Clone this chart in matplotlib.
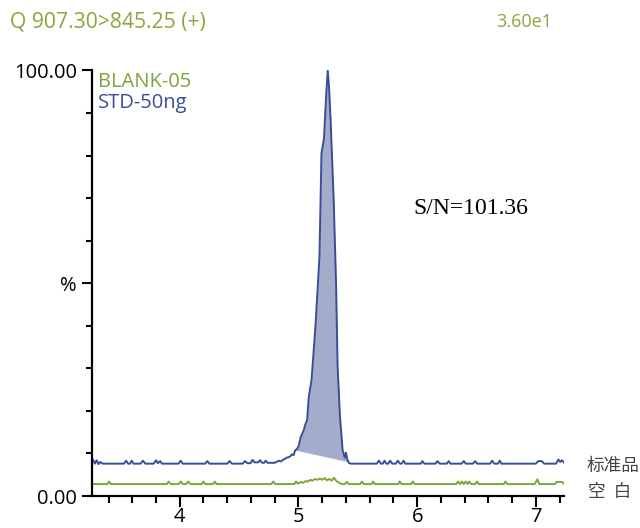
import matplotlib.pyplot as plt
import numpy as np
from matplotlib.ticker import MultipleLocator

# STD-50ng trace (retention time in min, intensity in %)
std_x = [3.26, 3.27, 3.285, 3.30, 3.315, 3.33, 3.35, 3.53, 3.548, 3.565, 3.58, 3.596, 3.61,
         3.67, 3.69, 3.71, 3.78, 3.80, 3.815, 3.834, 3.85, 3.99, 4.008, 4.025, 4.215, 4.232,
         4.25, 4.40, 4.42, 4.44, 4.53, 4.55, 4.57, 4.595, 4.613, 4.63, 4.66, 4.677, 4.695,
         4.71, 4.724, 4.74, 4.80, 4.836, 4.85, 4.87, 4.885, 4.90, 4.915, 4.93, 4.945, 4.96,
         4.97, 4.985, 5.00, 5.02, 5.045, 5.06, 5.073, 5.087, 5.11, 5.143, 5.177, 5.194,
         5.215, 5.235, 5.247, 5.258, 5.27, 5.297, 5.317, 5.33, 5.35, 5.372, 5.39, 5.40,
         5.41, 5.424, 5.44, 5.66, 5.678, 5.695, 5.71, 5.725, 5.74, 5.757, 5.773, 5.79,
         5.82, 5.837, 5.855, 5.87, 5.885, 5.90, 6.03, 6.044, 6.06, 6.155, 6.171, 6.19,
         6.25, 6.266, 6.28, 6.375, 6.393, 6.41, 6.47, 6.489, 6.505, 6.615, 6.632, 6.65,
         6.68, 6.696, 6.71, 7.00, 7.02, 7.05, 7.07, 7.15, 7.17, 7.19, 7.205, 7.22, 7.236]
std_y = [7.9, 8.5, 7.6, 8.4, 7.5, 8.0, 7.6, 7.6, 8.3, 7.6, 7.6, 8.3, 7.6,
         7.6, 8.3, 7.6, 7.6, 8.4, 7.7, 8.2, 7.6, 7.6, 8.3, 7.6, 7.6, 8.2,
         7.6, 7.6, 8.2, 7.6, 7.6, 8.2, 7.7, 7.7, 8.5, 7.9, 7.9, 8.4, 7.8,
         7.8, 8.3, 7.8, 7.8, 8.3, 8.1, 8.5, 8.7, 9.0, 9.1, 9.3, 9.8, 9.6,
         10.6, 11.0, 11.6, 13.9, 15.5, 17.0, 17.8, 23.3, 27.2, 39.7, 56.2, 80.5,
         84.0, 95.0, 100.0, 96.0, 89.0, 69.5, 49.9, 30.4, 18.6, 10.8, 9.0, 10.2,
         8.8, 7.8, 7.6, 7.6, 8.3, 7.6, 7.6, 8.3, 7.6, 7.6, 8.3, 7.6,
         7.6, 8.3, 7.6, 7.6, 8.3, 7.6, 7.6, 8.2, 7.6, 7.6, 8.2, 7.6,
         7.6, 8.2, 7.6, 7.6, 8.2, 7.6, 7.6, 8.2, 7.6, 7.6, 8.3, 7.6,
         7.6, 8.3, 7.6, 7.6, 8.2, 8.2, 7.6, 7.6, 7.6, 8.6, 8.0, 8.4, 7.9]

# BLANK-05 trace
blank_x = [3.26, 3.39, 3.405, 3.42, 3.89, 3.907, 3.925, 3.99, 4.008, 4.025, 4.055, 4.072,
           4.09, 4.185, 4.20, 4.215, 4.28, 4.295, 4.31, 4.77, 4.788, 4.805, 4.965, 4.98,
           4.995, 5.02, 5.04, 5.06, 5.08, 5.10, 5.12, 5.14, 5.16, 5.18, 5.20, 5.22, 5.24,
           5.26, 5.28, 5.30, 5.32, 5.35, 5.37, 5.39, 5.407, 5.425, 5.52, 5.535, 5.55, 5.615,
           5.63, 5.645, 5.84, 5.853, 5.87, 5.95, 5.963, 5.98, 6.33, 6.345, 6.36, 6.378,
           6.393, 6.41, 6.425, 6.44, 6.455, 6.49, 6.505, 6.52, 6.73, 6.743, 6.76, 6.99,
           7.013, 7.03, 7.16, 7.175, 7.22, 7.236]
blank_y = [2.8, 2.8, 3.4, 2.8, 2.8, 3.4, 2.8, 2.8, 3.4, 2.8, 2.8, 3.4,
           2.8, 2.8, 3.4, 2.8, 2.8, 3.4, 2.8, 2.8, 3.4, 2.8, 2.8, 3.4,
           2.9, 3.3, 3.1, 3.5, 3.4, 3.8, 3.6, 4.0, 3.8, 4.1, 3.8, 4.2, 3.7,
           4.0, 3.6, 4.3, 3.5, 3.0, 2.8, 2.8, 3.3, 2.8, 2.8, 3.4, 2.8, 2.8,
           3.4, 2.8, 2.8, 3.4, 2.8, 2.8, 3.4, 2.8, 2.8, 3.4, 2.8, 3.4,
           2.8, 3.4, 2.8, 3.4, 2.8, 2.8, 3.4, 2.8, 2.8, 3.4, 2.8, 2.8,
           3.9, 2.8, 2.8, 3.3, 3.3, 2.9]

# integrated peak limits
peak_start = 4.97
peak_end = 5.424

blue = '#3a4e95'
green = '#7fa33b'
fill_col = '#a3adcb'

plt.rcParams['font.family'] = ['Open Sans', 'DejaVu Sans']

fig = plt.figure(figsize=(6.4, 5.28), dpi=100)
ax = fig.add_axes([0.144, 0.0606, 0.737, 0.806])

sx = np.array(std_x)
sy = np.array(std_y)
mask = (sx >= peak_start) & (sx <= peak_end)
y0 = np.interp(peak_start, sx, sy)
y1 = np.interp(peak_end, sx, sy)
base = y0 + (sx[mask] - peak_start) * (y1 - y0) / (peak_end - peak_start)
ax.fill_between(sx[mask], base, sy[mask], color=fill_col, lw=0)
ax.plot([peak_start, peak_end], [y0, y1], color='white', lw=0.8)

ax.plot(blank_x, blank_y, color=green, lw=1.4)
ax.plot(std_x, std_y, color=blue, lw=1.4)

ax.set_xlim(3.262, 7.236)
ax.set_ylim(0, 100)
for s in ['top', 'right']:
    ax.spines[s].set_visible(False)
for s in ['left', 'bottom']:
    ax.spines[s].set_linewidth(1.6)

ax.set_xticks([4, 5, 6, 7])
ax.xaxis.set_minor_locator(MultipleLocator(0.2))
ax.set_yticks([0, 50, 100])
ax.set_yticklabels(['0.00', '%', '100.00'])
ax.yaxis.set_minor_locator(MultipleLocator(10))
ax.tick_params(axis='x', which='major', length=8, width=1.5, labelsize=14.5, pad=0)
ax.tick_params(axis='x', which='minor', length=5, width=1.5)
ax.tick_params(axis='y', which='major', length=7, width=1.5, labelsize=14.5, pad=4)
ax.tick_params(axis='y', which='minor', length=4, width=1.5)

fig.text(0.016, 0.958, 'Q 907.30>845.25 (+)', color='#8aa63c', fontsize=15.2, va='center')
fig.text(0.776, 0.958, '3.60e1', color='#8aa63c', fontsize=13, va='center')
ax.text(0.013, 0.972, 'BLANK-05', transform=ax.transAxes, color=green, fontsize=14.5, va='center')
ax.text(0.013, 0.923, 'STD-50ng', transform=ax.transAxes, color=blue, fontsize=14.5, va='center')
ax.text(5.965, 67.6, 'S/N=101.36', fontsize=17, family='Liberation Serif', va='center')

fig.text(0.917, 0.117, '标准品', color='#444444', fontsize=12.7, va='center',
         family=['Noto Sans CJK SC', 'DejaVu Sans'])
fig.text(0.919, 0.068, '空  白', color='#444444', fontsize=12.7, va='center',
         family=['Noto Sans CJK SC', 'DejaVu Sans'])

fig.savefig('out.png', dpi=100)
